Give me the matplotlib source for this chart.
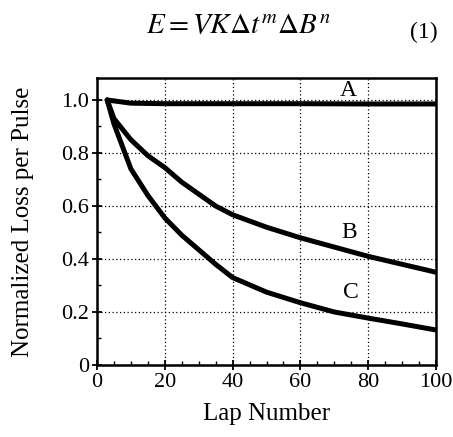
import matplotlib
matplotlib.use("Agg")
import matplotlib.pyplot as plt
from matplotlib.ticker import MultipleLocator

plt.rcParams['font.family'] = 'Liberation Serif'
plt.rcParams['mathtext.fontset'] = 'stix'

# curve data
lap_a = [3, 10, 20, 40, 60, 80, 100]
loss_a = [1.0, 0.988, 0.986, 0.986, 0.986, 0.985, 0.985]

lap_bc = [3, 5, 10, 15, 20, 25, 30, 35, 40, 50, 60, 70, 80, 90, 100]
loss_b = [1.0, 0.93, 0.85, 0.79, 0.745, 0.69, 0.645, 0.60, 0.567, 0.52, 0.48, 0.445, 0.41, 0.38, 0.35]
loss_c = [1.0, 0.91, 0.74, 0.64, 0.555, 0.49, 0.435, 0.38, 0.33, 0.275, 0.235, 0.20, 0.177, 0.155, 0.132]

labels = ["A", "B", "C"]
label_x = [74, 74.5, 75]
label_y = [1.035, 0.50, 0.275]

x_ticks = [0, 20, 40, 60, 80, 100]
y_ticks = [0, 0.2, 0.4, 0.6, 0.8, 1.0]
y_ticklabels = ["0", "0.2", "0.4", "0.6", "0.8", "1.0"]

fig = plt.figure(figsize=(4.53, 4.37), dpi=100)
ax = fig.add_axes([97 / 453, 1 - 365 / 437, (436 - 97) / 453, (365 - 78) / 437])

ax.plot(lap_a, loss_a, color='black', lw=3.6, solid_capstyle='round')
ax.plot(lap_bc, loss_b, color='black', lw=3.6, solid_capstyle='round')
ax.plot(lap_bc, loss_c, color='black', lw=3.6, solid_capstyle='round')

for lab, lx, ly in zip(labels, label_x, label_y):
    ax.text(lx, ly, lab, fontsize=17, ha='center', va='center')

ax.set_xlim(0, 100)
ax.set_ylim(0, 1.083)
ax.set_xticks(x_ticks)
ax.set_yticks(y_ticks)
ax.set_yticklabels(y_ticklabels)
ax.xaxis.set_minor_locator(MultipleLocator(5))
ax.yaxis.set_minor_locator(MultipleLocator(0.1))
ax.tick_params(direction='inout', length=7, width=1.3, labelsize=16, pad=2)
ax.tick_params(which='minor', direction='in', length=3, width=1)
ax.grid(True, which='major', color='black', linestyle=(0, (1, 2)), lw=0.9)
for s in ax.spines.values():
    s.set_linewidth(1.8)

ax.set_xlabel("Lap Number", fontsize=18, labelpad=8)
ax.set_ylabel("Normalized Loss per Pulse", fontsize=18, labelpad=20)

fig.text(238 / 453, 1 - 26 / 437, r"$E = VK\Delta t^{m}\Delta B^{n}$", fontsize=21,
         ha='center', va='center')
fig.text(424 / 453, 1 - 32 / 437, "(1)", fontsize=17, ha='center', va='center')

fig.savefig("out.png", dpi=100)
